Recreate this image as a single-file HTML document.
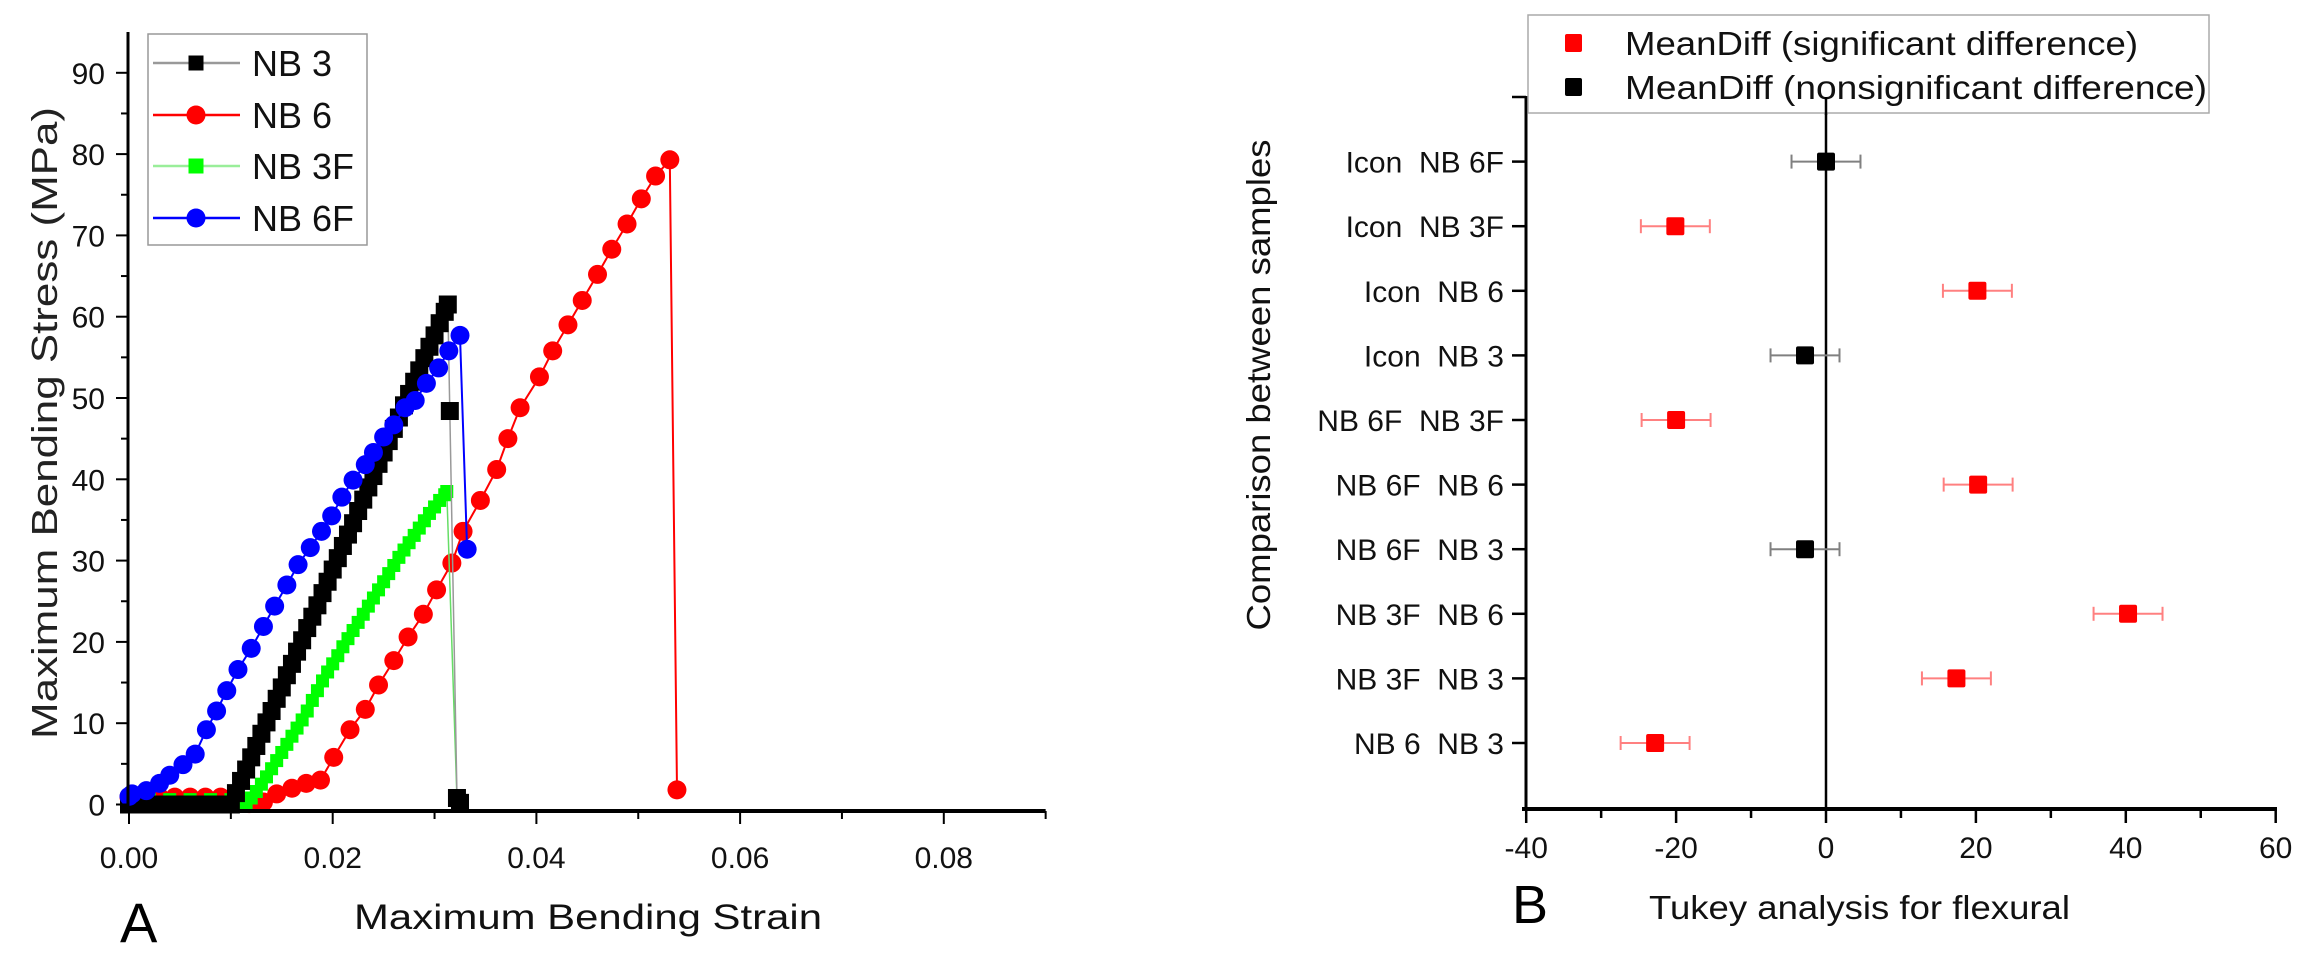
<!DOCTYPE html>
<html><head><meta charset="utf-8"><style>
html,body{margin:0;padding:0;background:#fff;}
svg{display:block;font-family:"Liberation Sans",Arial,sans-serif;}
</style></head><body>
<svg id="fig" width="2301" height="961" viewBox="0 0 2301 961" xmlns="http://www.w3.org/2000/svg">
<rect width="2301" height="961" fill="#fff"/>
<g id="chartA"></g>
<g id="chartB"></g>
</svg>
<script>
// ---- Chart A data ----
const xTicksA = [0, 0.02, 0.04, 0.06, 0.08];
const xTickLabelsA = ["0.00", "0.02", "0.04", "0.06", "0.08"];
const yTicksA = [0, 10, 20, 30, 40, 50, 60, 70, 80, 90];
const nb3X = [0,0.0005,0.001,0.0015,0.002,0.0025,0.003,0.0035,0.004,0.0045,0.005,0.0055,0.006,0.0065,0.007,0.0075,0.008,0.0085,0.009,0.0095,0.0098,
0.0100,0.0105,0.0110,0.0115,0.0120,0.0125,0.0130,0.0135,0.0140,0.0145,0.0150,0.0155,0.0160,0.0165,0.0170,0.0175,0.0180,0.0185,0.0190,0.0195,0.0200,0.0205,0.0210,0.0215,0.0220,0.0225,0.0230,0.0235,0.0240,0.0245,0.0250,0.0255,0.0260,0.0265,0.0270,0.0275,0.0280,0.0285,0.0290,0.0295,0.0300,0.0305,0.0310,0.0313,0.0315,0.0322,0.0325];
const nb3Y = [0,0,0,0,0,0,0,0,0,0,0,0,0,0,0,0,0,0,0,0,0,
0,1.4,2.9,4.3,5.8,7.2,8.7,10.1,11.5,13.0,14.4,15.9,17.3,18.8,20.2,21.7,23.1,24.5,26.0,27.4,28.9,30.3,31.8,33.2,34.6,36.1,37.5,39.0,40.4,41.9,43.3,44.7,46.2,47.6,49.1,50.5,52.0,53.4,54.9,56.3,57.7,59.2,60.6,61.5,48.4,0.8,0.2];
const nb6X = [0,0.0015,0.003,0.0045,0.006,0.0075,0.009,0.0105,0.0118,0.0132,0.0145,0.0160,0.0174,0.0188,0.0201,0.0217,0.0232,0.0245,0.0260,0.0274,0.0289,0.0302,0.0317,0.0328,0.0345,0.0361,0.0372,0.0384,0.0403,0.0416,0.0431,0.0445,0.0460,0.0474,0.0489,0.0503,0.0517,0.0531,0.0538];
const nb6Y = [0.9,0.9,0.9,0.9,0.9,0.9,0.9,0.6,0.1,0.3,1.3,2.0,2.6,3.0,5.8,9.2,11.7,14.7,17.7,20.6,23.4,26.4,29.7,33.6,37.4,41.2,45.0,48.8,52.6,55.8,59.0,62.0,65.2,68.3,71.4,74.5,77.3,79.3,1.8];
const nb3fX = [0,0.002,0.004,0.006,0.008,0.010,0.0113,0.0115,0.0120,0.0125,0.0130,0.0135,0.0140,0.0145,0.0150,0.0155,0.0160,0.0165,0.0170,0.0175,0.0180,0.0185,0.0190,0.0195,0.0200,0.0205,0.0210,0.0215,0.0220,0.0225,0.0230,0.0235,0.0240,0.0245,0.0250,0.0255,0.0260,0.0265,0.0270,0.0275,0.0280,0.0285,0.0290,0.0295,0.0300,0.0305,0.0310,0.0312,0.0322];
const nb3fY = [0.6,0.6,0.6,0.6,0.6,0.6,0,0.2,0.8,1.6,2.5,3.4,4.4,5.4,6.4,7.4,8.4,9.4,10.4,11.5,12.8,14.0,15.2,16.3,17.3,18.3,19.4,20.4,21.4,22.4,23.4,24.4,25.4,26.4,27.4,28.4,29.4,30.4,31.3,32.2,33.1,34.0,34.9,35.8,36.6,37.4,38.1,38.5,0.6];
const nb6fX = [0,0.0003,0.0017,0.0030,0.0040,0.0053,0.0065,0.0076,0.0086,0.0096,0.0107,0.0120,0.0132,0.0143,0.0155,0.0166,0.0178,0.0189,0.0199,0.0209,0.0220,0.0232,0.0240,0.0250,0.0260,0.0271,0.0281,0.0292,0.0304,0.0314,0.0325,0.0332];
const nb6fY = [1.0,1.3,1.7,2.6,3.6,4.9,6.2,9.2,11.5,14.0,16.6,19.2,21.9,24.4,27.0,29.5,31.6,33.6,35.5,37.8,39.9,41.8,43.3,45.2,46.7,48.8,49.7,51.8,53.7,55.8,57.7,31.4];

// ---- Chart B data ----
const comparisons = ["NB 6  NB 3","NB 3F  NB 3","NB 3F  NB 6","NB 6F  NB 3","NB 6F  NB 6","NB 6F  NB 3F","Icon  NB 3","Icon  NB 6","Icon  NB 3F","Icon  NB 6F"];
const meanDiff = [-22.8, 17.4, 40.3, -2.8, 20.3, -20.0, -2.8, 20.2, -20.1, 0.0];
const errHalf = [4.6, 4.6, 4.6, 4.6, 4.6, 4.6, 4.6, 4.6, 4.6, 4.6];
const significant = [true, true, true, false, true, true, false, true, true, false];
const xTicksB = [-40, -20, 0, 20, 40, 60];

const NS = "http://www.w3.org/2000/svg";
function mk(parent, tag, attrs, text) {
  const e = document.createElementNS(NS, tag);
  for (const k in attrs) e.setAttribute(k, attrs[k]);
  if (text !== undefined) e.textContent = text;
  parent.appendChild(e);
  return e;
}

// ===== Chart A =====
const A = document.getElementById('chartA');
const xA = v => 129 + v / 0.01 * 101.85;
const yA = s => 804.5 - s * 8.13;

function drawSeries(xs, ys, lineColor, lineW, markerColor, shape, size, name) {
  const g = mk(A, 'g', {});
  
  
  const pts = xs.map((v, i) => xA(v).toFixed(1) + ',' + yA(ys[i]).toFixed(1)).join(' ');
  const pl = mk(g, 'polyline', {points: pts, fill: 'none', stroke: lineColor, 'stroke-width': lineW});
  
  
  xs.forEach((v, i) => {
    let m;
    if (shape === 'circle') m = mk(g, 'circle', {cx: xA(v), cy: yA(ys[i]), r: size / 2, fill: markerColor});
    else m = mk(g, 'rect', {x: xA(v) - size / 2, y: yA(ys[i]) - size / 2, width: size, height: size, fill: markerColor});
    
    
  });
}
drawSeries(nb6X, nb6Y, '#ff0000', 2, '#ff0000', 'circle', 19, 'series-nb6');
drawSeries(nb3fX, nb3fY, '#66dd66', 1.5, '#00ff00', 'rect', 13, 'series-nb3f');
drawSeries(nb3X, nb3Y, '#999999', 1.5, '#000000', 'rect', 18, 'series-nb3');
drawSeries(nb6fX, nb6fY, '#0000ff', 2, '#0000ff', 'circle', 19, 'series-nb6f');

let e;
e = mk(A, 'line', {x1: 128, y1: 32, x2: 128, y2: 812, stroke: '#000', 'stroke-width': 3});
 
e = mk(A, 'line', {x1: 126, y1: 811, x2: xA(0.09), y2: 811, stroke: '#000', 'stroke-width': 4});
 
for (let s = 0; s <= 90; s += 5) {
  const major = s % 10 === 0;
  mk(A, 'line', {x1: major ? 116 : 121, y1: yA(s), x2: 128, y2: yA(s), stroke: '#000', 'stroke-width': 2});
}
yTicksA.forEach(s => {
  e = mk(A, 'text', {x: 105, y: yA(s) + 11, 'font-size': 30, 'text-anchor': 'end', fill: '#111'}, String(s));
   
});
for (let v = 0; v <= 0.0901; v += 0.01) {
  const major = Math.round(v * 100) % 2 === 0;
  mk(A, 'line', {x1: xA(v), y1: 811, x2: xA(v), y2: major ? 824 : 819, stroke: '#000', 'stroke-width': 2});
}
xTicksA.forEach((v, i) => {
  e = mk(A, 'text', {x: xA(v), y: 868, 'font-size': 30, 'text-anchor': 'middle', fill: '#111'}, xTickLabelsA[i]);
   
});
e = mk(A, 'text', {x: 588, y: 929, 'font-size': 35, 'text-anchor': 'middle', fill: '#111', textLength: 468, lengthAdjust: 'spacingAndGlyphs'}, 'Maximum Bending Strain');
 
e = mk(A, 'text', {x: 0, y: 0, 'font-size': 36, 'text-anchor': 'middle', fill: '#222', transform: 'translate(57,423) rotate(-90)', textLength: 632, lengthAdjust: 'spacingAndGlyphs'}, 'Maximum Bending Stress (MPa)');
 
e = mk(A, 'text', {x: 120, y: 942, 'font-size': 56, fill: '#000'}, 'A');
 

const legA = mk(A, 'g', {});
 
mk(legA, 'rect', {x: 148, y: 34, width: 219, height: 211, fill: '#fff', stroke: '#999', 'stroke-width': 1.5});
const legItems = [
  ['NB 3', '#999999', '#000', 'rect', 15, 63],
  ['NB 6', '#ff0000', '#ff0000', 'circle', 19, 115],
  ['NB 3F', '#99ee99', '#00ff00', 'rect', 15, 166],
  ['NB 6F', '#0000ff', '#0000ff', 'circle', 19, 218]
];
legItems.forEach(it => {
  const g = mk(legA, 'g', {});
   
  mk(g, 'line', {x1: 153, y1: it[5], x2: 240, y2: it[5], stroke: it[1], 'stroke-width': 2.5});
  if (it[3] === 'circle') mk(g, 'circle', {cx: 196, cy: it[5], r: it[4] / 2, fill: it[2]});
  else mk(g, 'rect', {x: 196 - it[4] / 2, y: it[5] - it[4] / 2, width: it[4], height: it[4], fill: it[2]});
  mk(g, 'text', {x: 252, y: it[5] + 13, 'font-size': 36, fill: '#111'}, it[0]);
});

// ===== Chart B =====
const B = document.getElementById('chartB');
const xB = v => 1826 + v * 7.495;
const yB = r => 807.6 - r * 64.6;

e = mk(B, 'line', {x1: 1526, y1: 96, x2: 1526, y2: 810, stroke: '#000', 'stroke-width': 3});
 
e = mk(B, 'line', {x1: 1522, y1: 809, x2: 2277, y2: 809, stroke: '#000', 'stroke-width': 4});
 
e = mk(B, 'line', {x1: xB(0), y1: 97, x2: xB(0), y2: 809, stroke: '#000', 'stroke-width': 2.5});
 
mk(B, 'line', {x1: 1512, y1: yB(11), x2: 1526, y2: yB(11), stroke: '#000', 'stroke-width': 2.5});
for (let v = -40; v <= 60; v += 10) {
  const major = v % 20 === 0;
  mk(B, 'line', {x1: xB(v), y1: 809, x2: xB(v), y2: major ? 823 : 818, stroke: '#000', 'stroke-width': 2.5});
}
xTicksB.forEach(v => {
  e = mk(B, 'text', {x: xB(v), y: 858, 'font-size': 30, 'text-anchor': 'middle', fill: '#111'}, String(v));
   
});
comparisons.forEach((c, i) => {
  const r = i + 1;
  mk(B, 'line', {x1: 1512, y1: yB(r), x2: 1526, y2: yB(r), stroke: '#000', 'stroke-width': 2.5});
  e = mk(B, 'text', {x: 1504, y: yB(r) + 11, 'font-size': 30, 'text-anchor': 'end', fill: '#111'}, c);
  e.style.whiteSpace = 'pre';
   
  const col = significant[i] ? '#ff0000' : '#000000';
  const ecol = significant[i] ? '#ff8080' : '#808080';
  const g = mk(B, 'g', {});
   
  const x0 = xB(meanDiff[i] - errHalf[i]), x1 = xB(meanDiff[i] + errHalf[i]), y = yB(r);
  mk(g, 'line', {x1: x0, y1: y, x2: x1, y2: y, stroke: ecol, 'stroke-width': 2});
  mk(g, 'line', {x1: x0, y1: y - 7, x2: x0, y2: y + 7, stroke: ecol, 'stroke-width': 2});
  mk(g, 'line', {x1: x1, y1: y - 7, x2: x1, y2: y + 7, stroke: ecol, 'stroke-width': 2});
  mk(g, 'rect', {x: xB(meanDiff[i]) - 9, y: y - 9, width: 18, height: 18, rx: 2, fill: col});
});
e = mk(B, 'text', {x: 0, y: 0, 'font-size': 33, 'text-anchor': 'middle', fill: '#111', transform: 'translate(1270,385) rotate(-90)', textLength: 491, lengthAdjust: 'spacingAndGlyphs'}, 'Comparison between samples');
 
e = mk(B, 'text', {x: 1649, y: 919, 'font-size': 33, fill: '#111', textLength: 421, lengthAdjust: 'spacingAndGlyphs'}, 'Tukey analysis for flexural');
 
e = mk(B, 'text', {x: 1512, y: 923, 'font-size': 54, fill: '#000'}, 'B');
 

const legB = mk(B, 'g', {});
 
mk(legB, 'rect', {x: 1528, y: 15, width: 681, height: 98, fill: '#fff', stroke: '#aaa', 'stroke-width': 1.5});
[['MeanDiff (significant difference)', '#ff0000', 43, 513], ['MeanDiff (nonsignificant difference)', '#000', 87, 582]].forEach(it => {
  const g = mk(legB, 'g', {});
   
  mk(g, 'rect', {x: 1565, y: it[2] - 9, width: 17, height: 18, rx: 2, fill: it[1]});
  mk(g, 'text', {x: 1625, y: it[2] + 12, 'font-size': 33, fill: '#111', textLength: it[3], lengthAdjust: 'spacingAndGlyphs'}, it[0]);
});
e = mk(B, 'line', {x1: xB(0), y1: 97, x2: xB(0), y2: 115, stroke: '#000', 'stroke-width': 2.5});
 
</script>
</body></html>
